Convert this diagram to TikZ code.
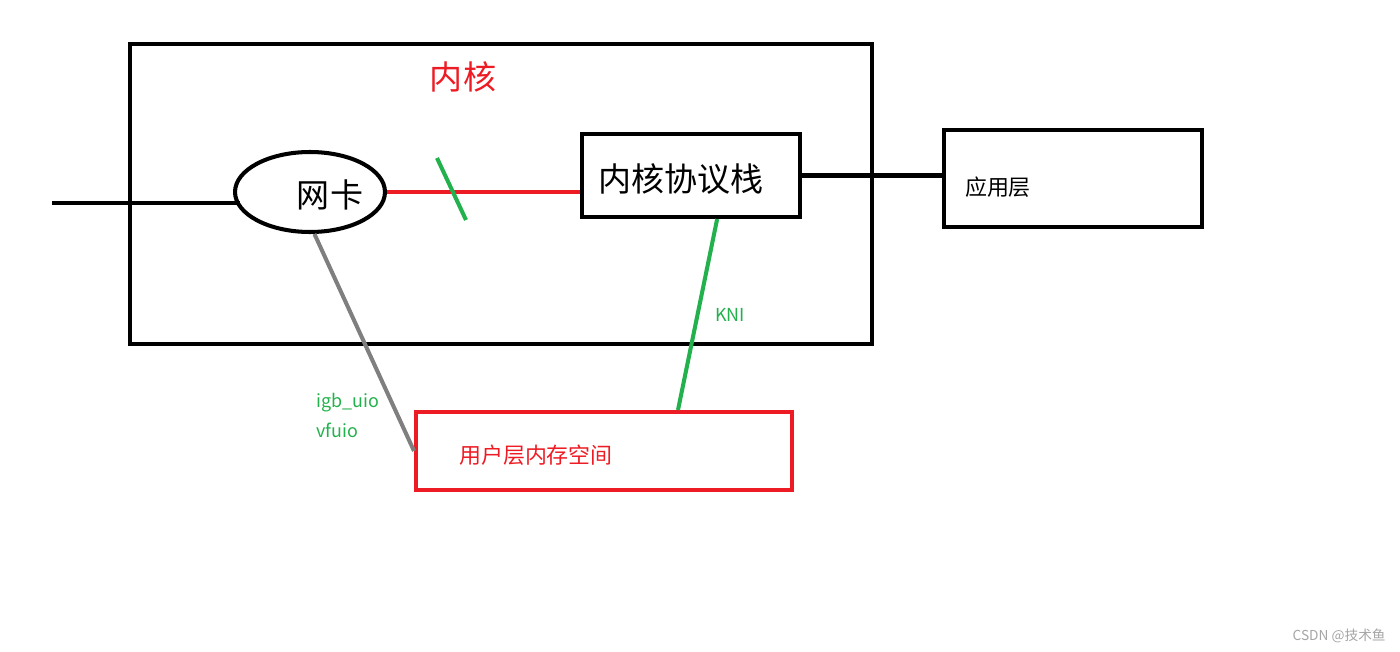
\documentclass[tikz,border=0pt]{standalone}
\usepackage{fontspec}
\setmainfont{Noto Sans CJK SC}
\usetikzlibrary{shapes.geometric,positioning}
\definecolor{pntred}{RGB}{237,28,36}
\definecolor{pntgreen}{RGB}{34,177,76}
\definecolor{pntgray}{RGB}{127,127,127}
\definecolor{wmgray}{RGB}{165,165,165}

\begin{document}
\begin{tikzpicture}[
  x=0.02cm, y=-0.02cm,
  box/.style={draw=black, line width=2.3pt, inner sep=0pt},
  membox/.style={box, draw=pntred},
  nic/.style={draw=black, ellipse, line width=2.3pt, inner sep=0pt,
    minimum width=3.0cm, minimum height=1.6cm},
  bigtxt/.style={font=\fontsize{18.8}{22}\selectfont, inner sep=0pt},
  smalltxt/.style={font=\fontsize{12.5}{15}\selectfont, inner sep=0pt},
  drvtxt/.style={font=\fontsize{10.2}{17}\selectfont, text=pntgreen, inner sep=0pt, align=left},
  wire/.style={draw=black, line width=2.3pt},
  redwire/.style={draw=pntred, line width=2.3pt},
  greenwire/.style={draw=pntgreen, line width=2.3pt},
  graywire/.style={draw=pntgray, line width=2.3pt}
]
  \useasboundingbox (0,0) rectangle (1400,652);

  % boxes
  \node[box, minimum width=14.84cm, minimum height=6.0cm] (kernel) at (501,194) {};
  \node[bigtxt, text=pntred] (kerneltxt) at (463,77) {内核};
  \node[nic] (nic) at (310,192) {};
  \node[bigtxt] (nictxt) at (330,195) {网卡};
  \node[box, minimum width=4.36cm, minimum height=1.66cm] (stack) at (691,175.5) {};
  \node[bigtxt] (stacktxt) at (681,179) {内核协议栈};
  \node[box, minimum width=5.16cm, minimum height=1.94cm] (app) at (1073,178.5) {};
  \node[smalltxt] (apptxt) at (998,187) {应用层};
  \node[membox, minimum width=7.52cm, minimum height=1.56cm] (user) at (604,451) {};
  \node[smalltxt, text=pntred] (usertxt) at (536,455) {用户层内存空间};

  % connectors
  \coordinate (wirein) at (52,203);
  \draw[wire] (wirein) -- ([xshift=4pt]wirein -| nic.west);
  \draw[redwire] (nic.east) -- (nic.east -| stack.west);
  \coordinate (cutA) at (437,158);
  \coordinate (cutB) at (466,220);
  \draw[greenwire] (cutA) -- (cutB);
  \draw[wire] (stack.east) -- (app.west |- stack.east);
  \draw[graywire] (nic.-84) -- (user.west);
  \draw[greenwire] (stack.-59) -- node[pos=0.5, right=9pt, font=\fontsize{10.2}{12}\selectfont, text=pntgreen, inner sep=0pt] (knitxt) {KNI} (user.29);

  \node[drvtxt, anchor=north west] (drvtxt) at (316,393) {igb\_uio\\vfuio};

  \node[font=\fontsize{7.8}{9}\selectfont, text=wmgray, anchor=east, inner sep=0pt] (mark) at (1386,636) {CSDN @技术鱼};
\end{tikzpicture}
\end{document}
